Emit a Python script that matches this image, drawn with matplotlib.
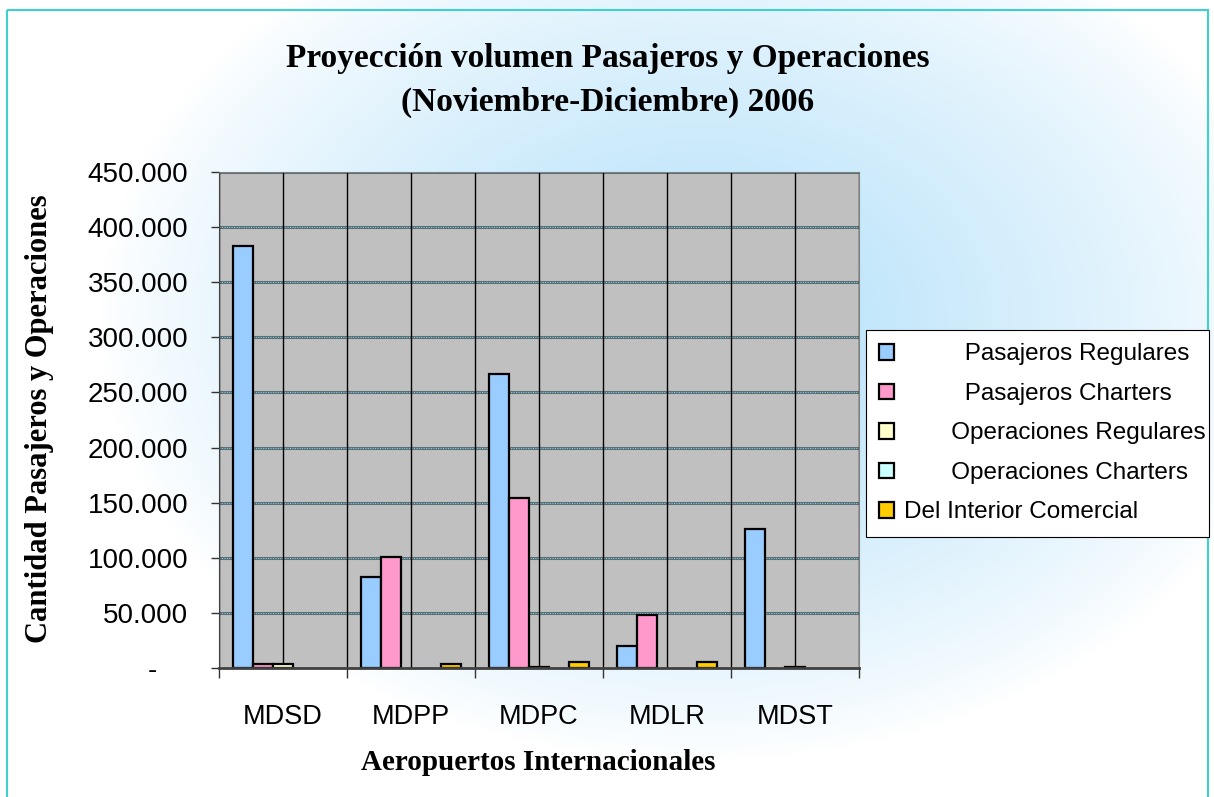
import numpy as np
import matplotlib
matplotlib.use("Agg")
import matplotlib.pyplot as plt
from matplotlib.ticker import FuncFormatter, MultipleLocator, FixedLocator
from matplotlib.patches import Rectangle

# data
airports = ["MDSD", "MDPP", "MDPC", "MDLR", "MDST"]
series = ["Pasajeros Regulares", "Pasajeros Charters", "Operaciones Regulares",
          "Operaciones Charters", "Del Interior Comercial"]
pasajeros_regulares = [383000, 82500, 267000, 20000, 126000]
pasajeros_charters = [3300, 101000, 154500, 48000, 0]
operaciones_regulares = [3300, 0, 1200, 0, 1200]
operaciones_charters = [0, 0, 0, 0, 0]
interior_comercial = [0, 3600, 5000, 5000, 0]

values = [pasajeros_regulares, pasajeros_charters, operaciones_regulares,
          operaciones_charters, interior_comercial]
colors = ["#99CCFF", "#FF99CC", "#FFFFCC", "#CCFFFF", "#FFCC00"]
legend_pad = [9, 9, 7, 7, 0]  # the legend labels are indented in the original

W, H = 1214, 797
fig = plt.figure(figsize=(W / 100, H / 100), dpi=100)

# light blue glow behind everything
bg = fig.add_axes([0, 0, 1, 1], zorder=-10)
yy, xx = np.mgrid[0:H, 0:W]
t = np.sqrt(((xx - 700) / 600.0) ** 2 + ((yy - 320) / 440.0) ** 2)
k = np.clip(1 - t, 0, 1) ** 0.8
white = np.array([1.0, 1.0, 1.0])
blue = np.array([0.70, 0.88, 0.98])
img = white[None, None, :] * (1 - k[..., None]) + blue[None, None, :] * k[..., None]
bg.imshow(img, extent=[0, W, H, 0], aspect="auto")
bg.set_xlim(0, W)
bg.set_ylim(H, 0)
bg.axis("off")
bg.add_patch(Rectangle((7, 10), 1201, 800, fill=False, edgecolor="#40D0D0", lw=1.5))

ax = fig.add_axes([219 / W, 1 - 668 / H, (859 - 219) / W, (668 - 172) / H])
ax.set_facecolor("#C0C0C0")

n = len(airports)
x = np.arange(n)
bw = 0.78 / len(series)
for i, (vals, c) in enumerate(zip(values, colors)):
    offs = (i - (len(series) - 1) / 2) * bw
    h = np.array(vals, dtype=float)
    h[h == 0] = np.nan  # empty cells draw nothing
    ax.bar(x + offs, h, width=bw, color=c, edgecolor="black", linewidth=1.6,
           zorder=3, label=" " * legend_pad[i] + series[i])

ax.set_xlim(-0.5, n - 0.5)
ax.set_ylim(0, 450000)

# horizontal gridlines
for yv in np.arange(50000, 450001, 50000):
    ax.axhline(yv, color="#5a7078", lw=2.2, zorder=1)
    ax.axhline(yv, color="#8fd8e4", lw=0.7, ls=(0, (1, 1.5)), zorder=1.1)
# vertical lines at category edges and centres
for xv in np.arange(-0.5, n, 0.5):
    ax.axvline(xv, color="black", lw=1.0, zorder=1.2)

ax.yaxis.set_major_locator(MultipleLocator(50000))
ax.yaxis.set_major_formatter(FuncFormatter(
    lambda v, p: "-    " if v == 0 else f"{int(v):,}".replace(",", ".")))
ax.xaxis.set_major_locator(FixedLocator(np.arange(-0.5, n, 1.0)))
ax.xaxis.set_major_formatter(FuncFormatter(lambda v, p: ""))
ax.xaxis.set_minor_locator(FixedLocator(x))
ax.set_xticks(x, airports, minor=True)

ax.tick_params(axis="y", length=6, width=1, color="#333333", pad=16,
               labelsize=20, labelfontfamily="Liberation Sans")
ax.tick_params(axis="x", which="major", length=7, width=1, color="#333333", direction="out")
ax.tick_params(axis="x", which="minor", length=0, pad=26,
               labelsize=19.5, labelfontfamily="Liberation Sans")

for s in ["top", "right"]:
    ax.spines[s].set_color("#808080")
ax.spines["left"].set_color("#404040")
ax.spines["bottom"].set_color("#404040")
ax.spines["bottom"].set_linewidth(2)
ax.spines["bottom"].set_zorder(4)

fig.text(608 / W, 1 - 58 / H, "Proyección volumen Pasajeros y Operaciones",
         ha="center", va="center", fontsize=24, fontweight="bold", family="Liberation Serif")
fig.text(608 / W, 1 - 102 / H, "(Noviembre-Diciembre) 2006",
         ha="center", va="center", fontsize=24, fontweight="bold", family="Liberation Serif")
fig.text(40 / W, 1 - 419 / H, "Cantidad Pasajeros y Operaciones", rotation=90,
         ha="center", va="center", fontsize=22, fontweight="bold", family="Liberation Serif")
fig.text(538 / W, 1 - 762 / H, "Aeropuertos Internacionales",
         ha="center", va="center", fontsize=21, fontweight="bold", family="Liberation Serif")

leg = ax.legend(loc="upper left", bbox_to_anchor=(866 / W, 1 - 330 / H, 343 / W, 0.0),
                bbox_transform=fig.transFigure, mode="expand", borderaxespad=0,
                fancybox=False, frameon=True, framealpha=1, edgecolor="black",
                prop={"family": "Liberation Sans", "size": 17.5},
                handlelength=0.6, handleheight=0.6, handletextpad=0.4,
                labelspacing=0.72, borderpad=0.55)
leg.get_frame().set_linewidth(0.8)

fig.savefig("out.png", dpi=100)
